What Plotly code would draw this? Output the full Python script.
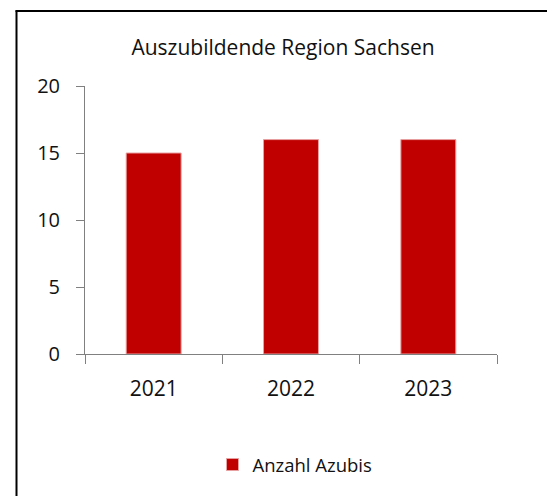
import plotly.graph_objects as go

years = ["2021", "2022", "2023"]
azubis = [15, 16, 16]
series_name = "Anzahl Azubis"
title_text = "Auszubildende Region Sachsen"
y_ticks = [0, 5, 10, 15, 20]

# page body has an 8px default margin; compensate so the screenshot lines up
OFF = 8
W, H = 555, 496
L, T = 85 - OFF, 86 - OFF
pw, ph = 412, 268
R, B = W - L - pw, H - T - ph

def px_x(x):
    # x in screenshot pixels -> paper coordinate
    return (x - OFF - L) / pw

def px_y(y):
    return (T + ph - (y - OFF)) / ph

fig = go.Figure()
fig.add_trace(go.Bar(
    x=years, y=azubis, name=series_name,
    marker=dict(color="#C00000", line=dict(color="#E8A0A0", width=1)),
    showlegend=True,
))

font_family = "Open Sans"
fig.update_layout(
    width=W, height=H,
    margin=dict(l=L, r=R, t=T, b=B, pad=0),
    paper_bgcolor="white", plot_bgcolor="white",
    bargap=0.6,
    font=dict(family=font_family, color="#111111", size=20),
    title=dict(text=title_text, x=(283 - OFF) / W, xanchor="center", xref="container",
               y=1 - (48 - OFF) / H, yanchor="middle", yref="container",
               font=dict(size=21, family=font_family, color="#111111")),
    showlegend=True,
    legend=dict(orientation="h", xref="container", yref="container",
                x=(295 - OFF) / W, xanchor="center", y=1 - (465 - OFF) / H, yanchor="middle",
                font=dict(size=18.5, family=font_family, color="#111111"),
                bgcolor="rgba(0,0,0,0)"),
    xaxis=dict(type="category", range=[-0.5, 2.5], showline=True, linecolor="#808080",
               linewidth=1, ticks="outside", ticklen=9, tickcolor="#808080",
               tickson="boundaries", showgrid=False, zeroline=False,
               tickfont=dict(size=21), ticklabelstandoff=16),
    yaxis=dict(range=[0, 20], tickvals=y_ticks, showline=True, linecolor="#808080",
               linewidth=1, ticks="outside", ticklen=8, tickcolor="#808080",
               showgrid=False, zeroline=False, tickfont=dict(size=20),
               ticklabelstandoff=12),
    shapes=[
        dict(type="line", xref="paper", yref="paper",
             x0=px_x(16.5), x1=px_x(16.5), y0=px_y(10.5), y1=px_y(520),
             line=dict(color="black", width=2)),
        dict(type="line", xref="paper", yref="paper",
             x0=px_x(15.5), x1=px_x(580), y0=px_y(11), y1=px_y(11),
             line=dict(color="black", width=2)),
    ],
)

fig.write_html("out.html")
